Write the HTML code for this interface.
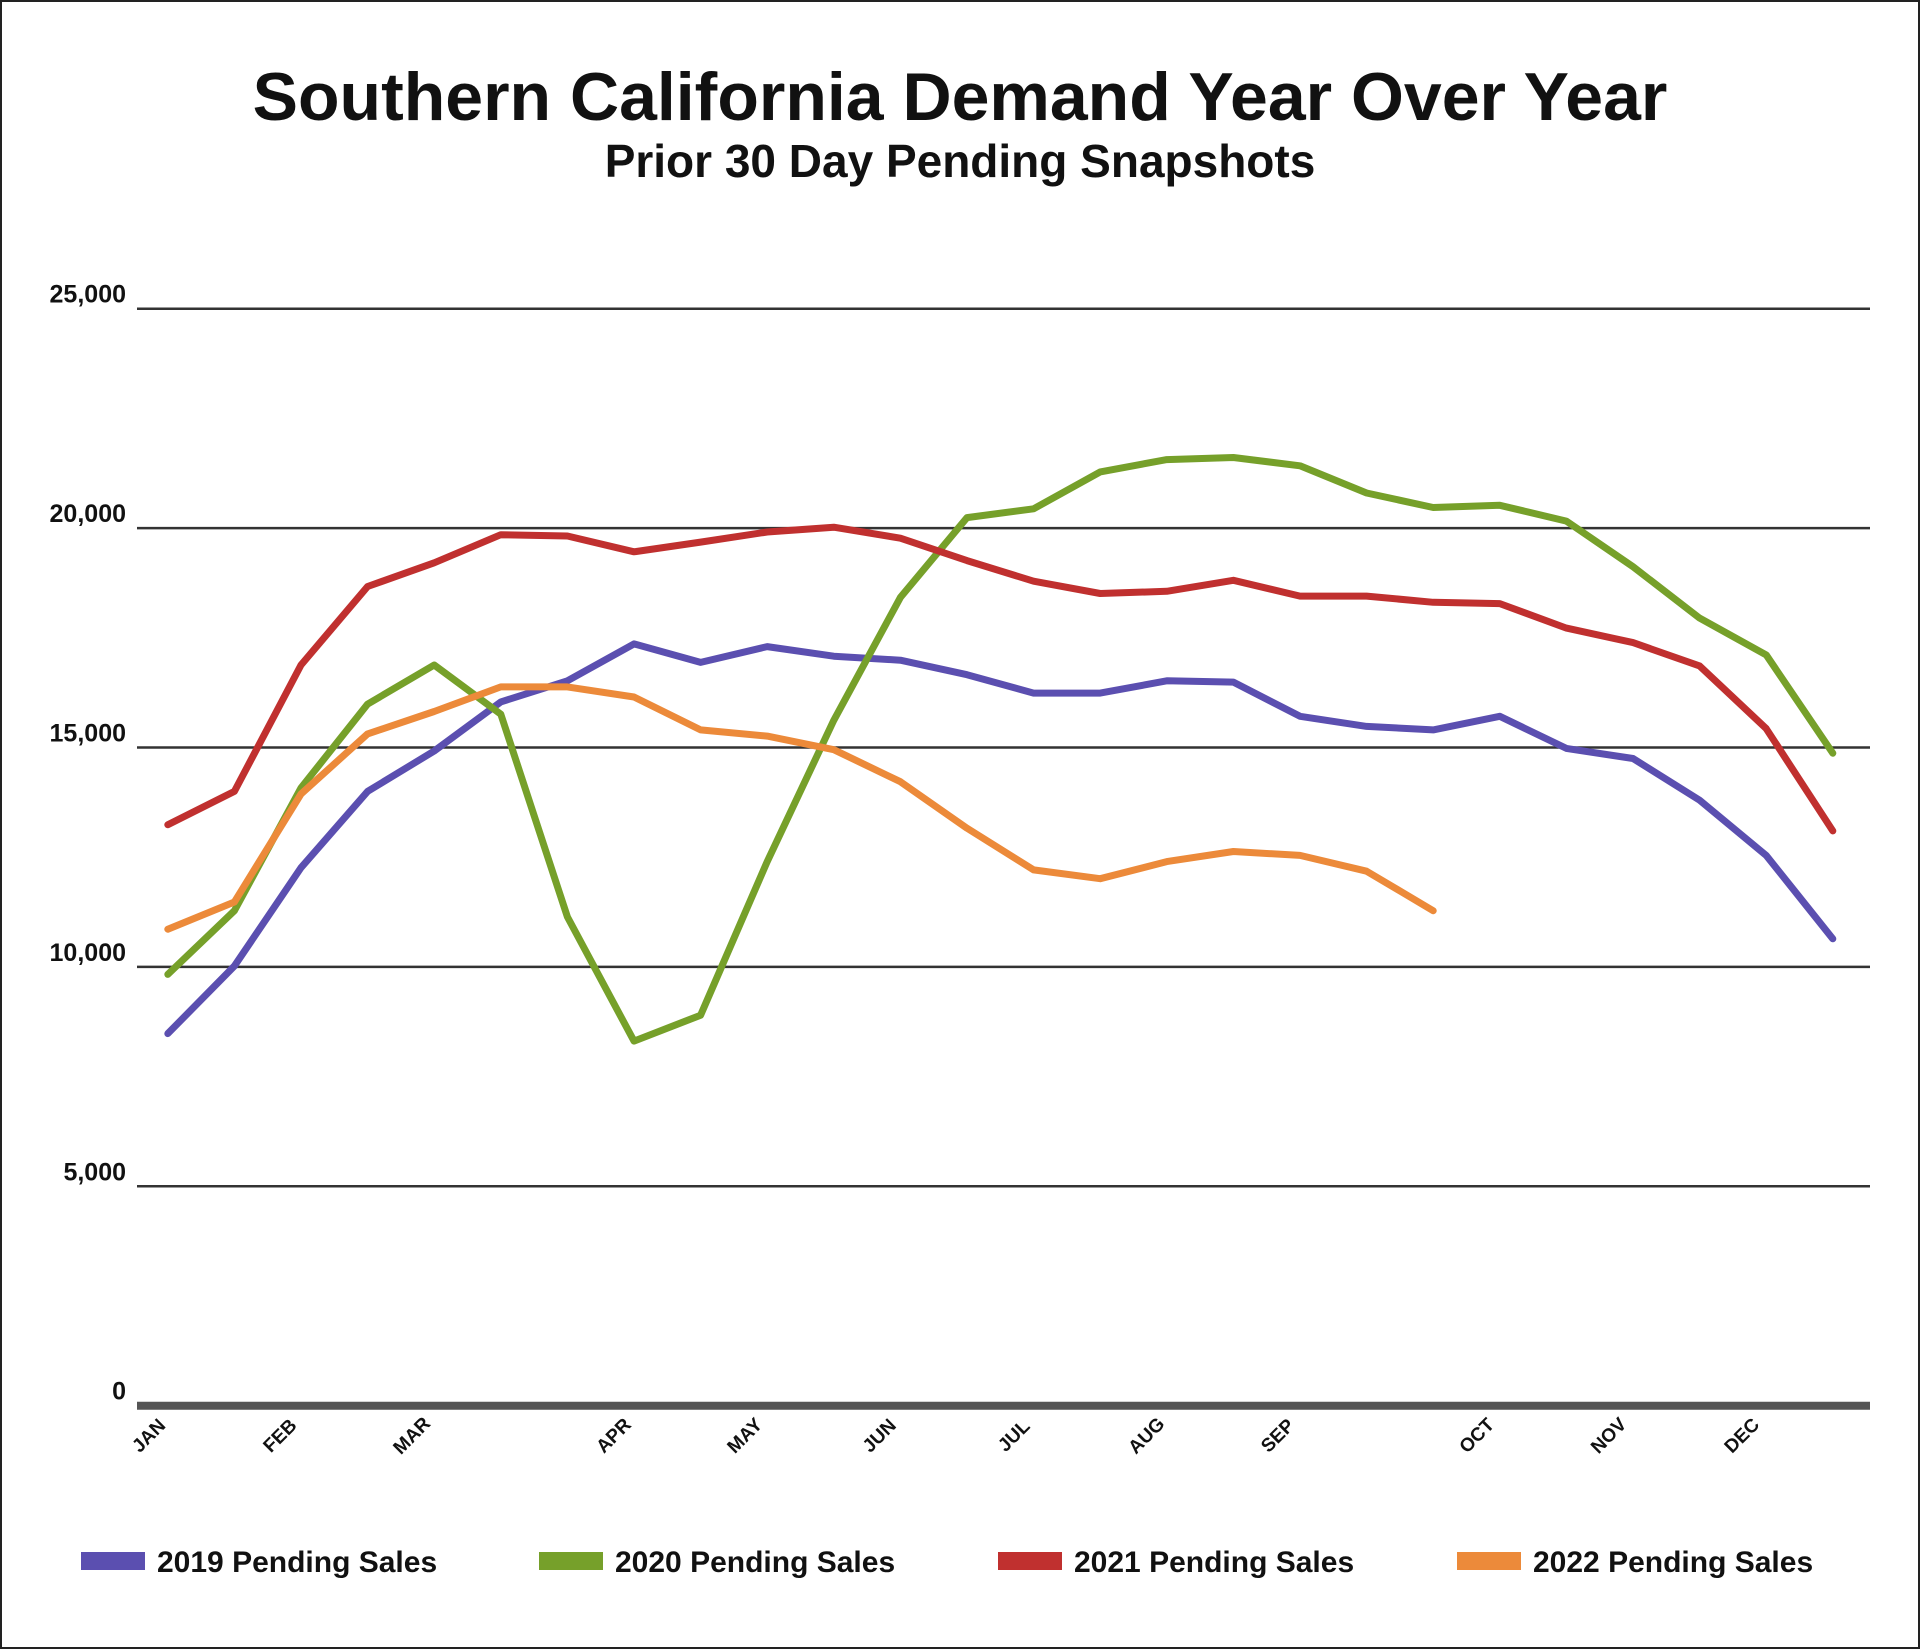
<!DOCTYPE html>
<html><head><meta charset="utf-8"><style>
html,body{margin:0;padding:0;background:#fff}
svg{display:block}
text{font-family:"Liberation Sans",sans-serif;font-weight:bold;fill:#111}
</style></head><body>
<svg id="chart" width="1920" height="1649" viewBox="0 0 1920 1649" xmlns="http://www.w3.org/2000/svg">
<rect x="1" y="1" width="1918" height="1647" fill="#fff" stroke="#222" stroke-width="2"/>
<text x="960" y="120" text-anchor="middle" font-size="68">Southern California Demand Year Over Year</text>
<text x="960" y="177" text-anchor="middle" font-size="46">Prior 30 Day Pending Snapshots</text>
<g id="grid"></g><g id="series"></g><g id="xlabels"></g><g id="legend"></g>
</svg>
<script>
const yTicks=[0,5000,10000,15000,20000,25000];
const yTickLabels=["0","5,000","10,000","15,000","20,000","25,000"];
const months=["JAN","FEB","MAR","APR","MAY","JUN","JUL","AUG","SEP","OCT","NOV","DEC"];
const monthPos=[-0.22,1.75,3.73,6.76,8.73,10.75,12.77,14.76,16.73,19.72,21.7,23.7];
const s2019=[8480,10020,12260,14000,14920,16040,16520,17360,16940,17300,17080,16990,16660,16240,16240,16520,16490,15710,15480,15400,15710,14980,14750,13800,12540,10640];
const s2020=[9830,11280,14080,15990,16880,15760,11140,8310,8900,12400,15620,18420,20240,20440,21280,21560,21610,21420,20800,20470,20520,20160,19120,17950,17110,14870];
const s2021=[13240,14000,16880,18670,19210,19850,19820,19460,19680,19910,20020,19770,19260,18790,18510,18560,18810,18450,18450,18310,18280,17720,17390,16860,15430,13100];
const s2022=[10860,11480,13940,15310,15820,16380,16380,16150,15400,15260,14950,14220,13160,12210,12010,12400,12630,12540,12180,11280];
const seriesNames=["2019 Pending Sales","2020 Pending Sales","2021 Pending Sales","2022 Pending Sales"];
const seriesColors=["#5b4fb0","#76a02a","#c0302f","#ec8a3a"];
const seriesData=[s2019,s2020,s2021,s2022];

const NS="http://www.w3.org/2000/svg";
const y=v=>1405.7-v/5000*219.4;
const x=i=>167.8+i*66.6;
function mk(tag,attrs,parent){const e=document.createElementNS(NS,tag);for(const k in attrs)e.setAttribute(k,attrs[k]);parent.appendChild(e);return e;}
const grid=document.getElementById('grid');
yTicks.forEach((t,i)=>{
  const l=mk('line',{x1:137,x2:1870,y1:y(t),y2:y(t),stroke:t===0?'#555':'#333','stroke-width':t===0?8:2.5},grid);
  
  
  const tx=mk('text',{x:126,y:y(t)-6,'text-anchor':'end','font-size':25},grid);
  tx.textContent=yTickLabels[i];
  
  
});
const xl=document.getElementById('xlabels');
months.forEach((m,i)=>{
  const px=x(monthPos[i]), py=1440;
  const t=mk('text',{x:px,y:py,'text-anchor':'middle','font-size':19,transform:`rotate(-45 ${px} ${py})`},xl);
  t.textContent=m;
  
  
});
const sg=document.getElementById('series');
seriesData.forEach((d,si)=>{
  const pts=d.map((v,i)=>x(i).toFixed(1)+','+y(v).toFixed(1)).join(' ');
  const p=mk('polyline',{points:pts,fill:'none',stroke:seriesColors[si],'stroke-width':7,'stroke-linejoin':'round','stroke-linecap':'round'},sg);
  
  
});
const lg=document.getElementById('legend');
const lx=[81,539,998,1457];
seriesNames.forEach((n,i)=>{
  const r=mk('rect',{x:lx[i],y:1552,width:64,height:18,fill:seriesColors[i]},lg);
  
  
  const t=mk('text',{x:lx[i]+76,y:1572,'font-size':30},lg);
  t.textContent=n;
  
  
});
</script>
</body></html>
